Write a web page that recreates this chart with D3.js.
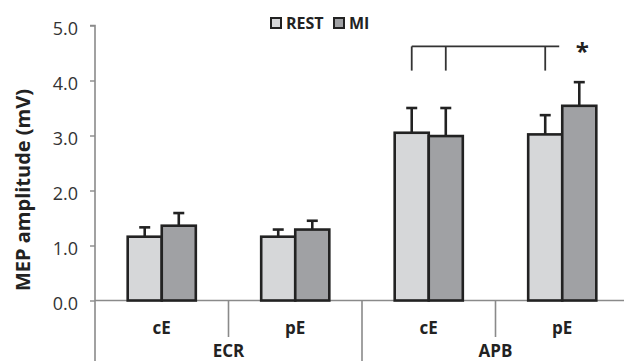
<!DOCTYPE html>
<html><head><meta charset="utf-8">
<script src="https://cdn.jsdelivr.net/npm/d3@7"></script>
<style>body{margin:0;background:#fff}svg{display:block}text{font-family:"Open Sans",sans-serif}</style>
</head><body><div id="chart"></div>
<script>
const muscles = ["ECR", "APB"];
const conditions = ["cE", "pE"];
const series = ["REST", "MI"];
const restMeans = [1.16, 1.16, 3.05, 3.02];
const miMeans = [1.36, 1.29, 2.99, 3.54];
const restErr = [0.17, 0.13, 0.45, 0.35];
const miErr = [0.23, 0.16, 0.51, 0.43];
const yTicks = [0, 1, 2, 3, 4, 5];
const colors = {REST: "#d6d7d9", MI: "#a0a1a4"};

const W = 624, H = 361;
const svg = d3.select("#chart").append("svg").attr("width", W).attr("height", H);

const y = d3.scaleLinear().domain([0, 5]).range([300.5, 25.5]);
const xM = d3.scaleBand().domain(muscles).range([95, 629]);
const xC = d3.scaleBand().domain(conditions).range([0, xM.bandwidth()]);
const xS = d3.scaleBand().domain(series).range([0, xC.bandwidth()]).paddingOuter(0.96);

const data = [];
muscles.forEach((m, i) => conditions.forEach((c, j) => {
  const k = i * 2 + j;
  data.push({m, c, s: "REST", v: restMeans[k], e: restErr[k]});
  data.push({m, c, s: "MI", v: miMeans[k], e: miErr[k]});
}));
const bx = d => xM(d.m) + xC(d.c) + xS(d.s);
const bc = d => bx(d) + xS.bandwidth() / 2;

// Y axis
const yAxis = d3.axisLeft(y).tickValues(yTicks).tickFormat(d3.format(".1f")).tickSize(5).tickPadding(12);
const ga = svg.append("g").attr("transform", "translate(95,0)").call(yAxis);
ga.select(".domain").attr("stroke", "#8a8a8a").attr("stroke-width", 1.6).attr("d", "M-5,25.5H0V361");
ga.selectAll(".tick line").attr("stroke", "#8a8a8a").attr("stroke-width", 1.4);
ga.selectAll(".tick text").attr("font-size", 18).attr("fill", "#333").attr("font-family", "Open Sans").attr("dy", "0.5em");

svg.append("text").attr("transform", "translate(30,190) rotate(-90)")
  .attr("text-anchor", "middle").attr("font-size", 20).attr("font-weight", "bold").attr("fill", "#222")
  .text("MEP amplitude (mV)");

// X axis baseline and dividers
svg.append("line").attr("x1", 95).attr("x2", W).attr("y1", y(0)).attr("y2", y(0))
  .attr("stroke", "#8a8a8a").attr("stroke-width", 1.6);
muscles.forEach((m, i) => {
  if (i > 0) svg.append("line").attr("x1", xM(m)).attr("x2", xM(m)).attr("y1", y(0)).attr("y2", H)
    .attr("stroke", "#8a8a8a").attr("stroke-width", 1.6);
  svg.append("line").attr("x1", xM(m) + xC("pE")).attr("x2", xM(m) + xC("pE")).attr("y1", y(0)).attr("y2", 337)
    .attr("stroke", "#8a8a8a").attr("stroke-width", 1.6);
  conditions.forEach(c => {
    svg.append("text").attr("x", xM(m) + xC(c) + xC.bandwidth() / 2).attr("y", 334)
      .attr("text-anchor", "middle").attr("font-size", 17).attr("font-weight", "bold").attr("fill", "#222").text(c);
  });
  svg.append("text").attr("x", xM(m) + xM.bandwidth() / 2).attr("y", 357)
    .attr("text-anchor", "middle").attr("font-size", 17).attr("font-weight", "bold").attr("fill", "#222").text(m);
});

// Error bars
const eg = svg.append("g").attr("stroke", "#222").attr("stroke-width", 2.6);
data.forEach(d => {
  eg.append("line").attr("x1", bc(d)).attr("x2", bc(d)).attr("y1", y(d.v)).attr("y2", y(d.v + d.e));
  eg.append("line").attr("x1", bc(d) - 5.5).attr("x2", bc(d) + 5.5).attr("y1", y(d.v + d.e)).attr("y2", y(d.v + d.e));
});

// Bars
svg.append("g").selectAll("rect").data(data).join("rect")
  .attr("x", bx).attr("width", xS.bandwidth())
  .attr("y", d => y(d.v)).attr("height", d => y(0) - y(d.v))
  .attr("fill", d => colors[d.s]).attr("stroke", "#222").attr("stroke-width", 2.6);

// Significance bracket
const bTop = 4.62, bBot = 4.18;
const ticksAt = [data[4], data[5], data[6]];
const bg = svg.append("g").attr("stroke", "#333").attr("stroke-width", 1.8).attr("fill", "none");
bg.append("line").attr("x1", bc(data[4])).attr("x2", bc(data[6]) + 14).attr("y1", y(bTop)).attr("y2", y(bTop));
ticksAt.forEach(d => bg.append("line").attr("x1", bc(d)).attr("x2", bc(d)).attr("y1", y(bTop)).attr("y2", y(bBot)));
svg.append("text").attr("x", bc(data[7]) + 3).attr("y", y(4.38)).attr("text-anchor", "middle")
  .attr("font-size", 24).attr("font-weight", "bold").attr("fill", "#222").text("*");

// Legend
const lg = svg.append("g");
const legendX = [270, 333];
series.forEach((s, i) => {
  lg.append("rect").attr("x", legendX[i] + 1).attr("y", 18).attr("width", 10).attr("height", 10)
    .attr("fill", colors[s]).attr("stroke", "#222").attr("stroke-width", 2);
  lg.append("text").attr("x", legendX[i] + 16).attr("y", 29).attr("font-size", 16)
    .attr("font-weight", "bold").attr("fill", "#222").text(s);
});
</script></body></html>
